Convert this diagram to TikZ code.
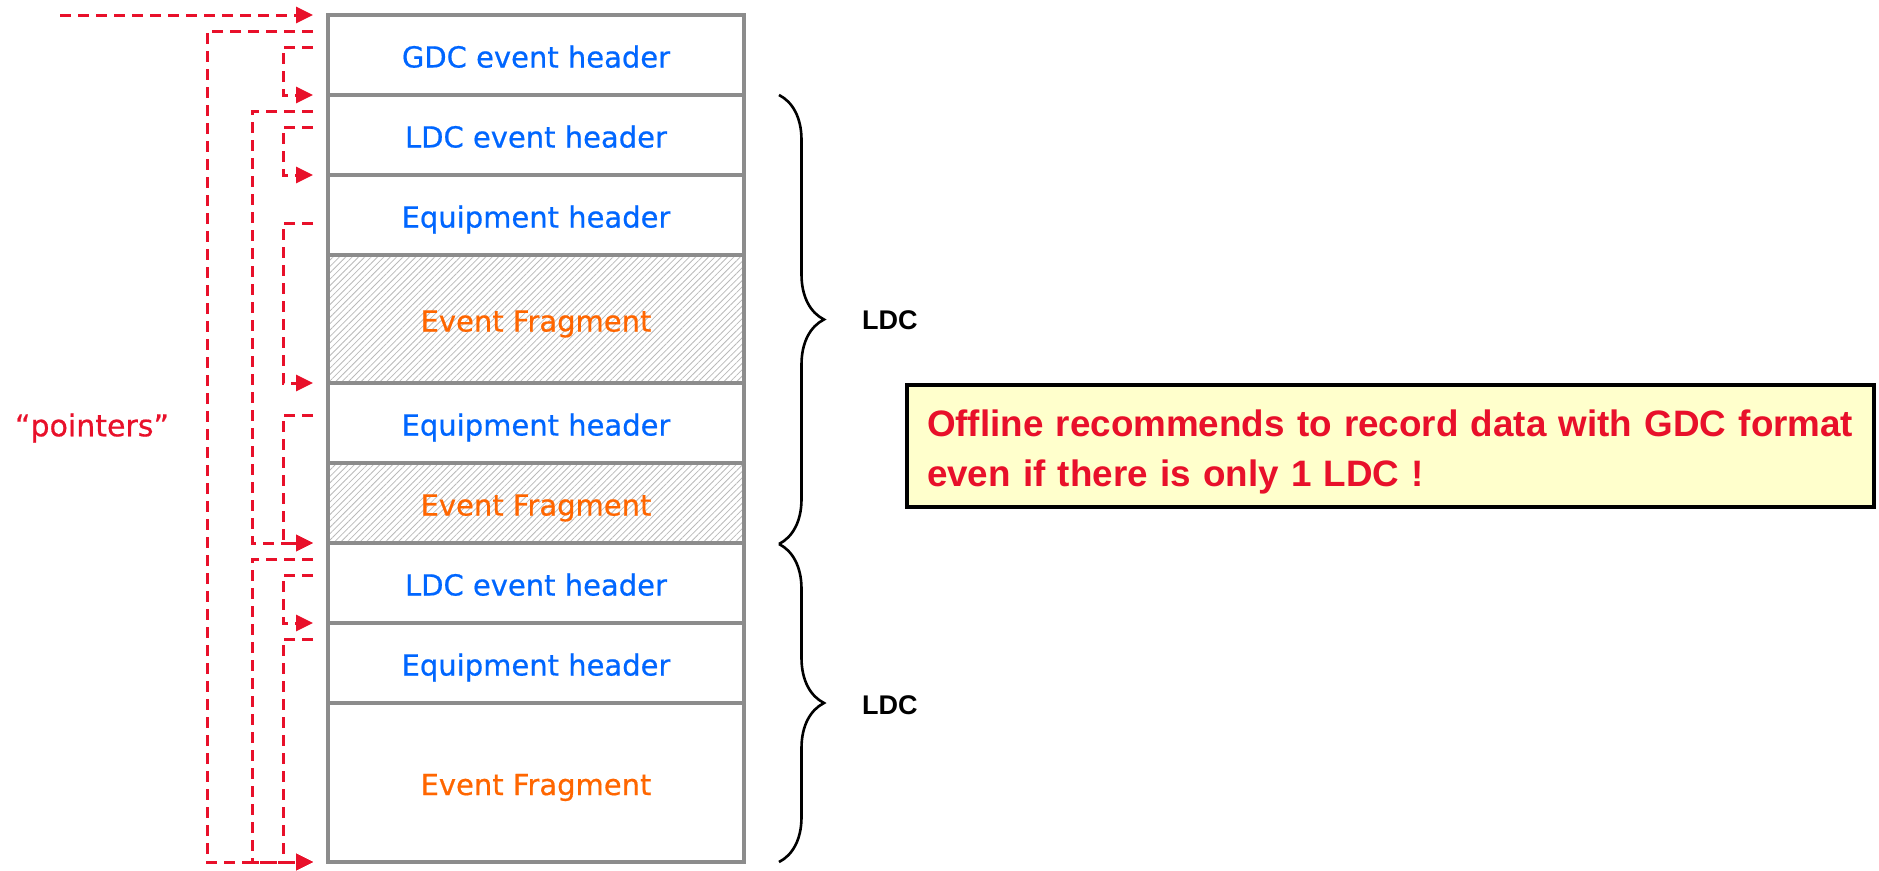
\documentclass[tikz,border=0pt]{standalone}
\usepackage{fontspec}
\setmainfont{DejaVu Sans}
\newfontfamily\stackfont{DejaVu Sans}[FakeBold=0.6]
\newfontfamily\arialfont{Liberation Sans}
\usetikzlibrary{arrows.meta,patterns.meta,decorations.pathreplacing}
\definecolor{ptrred}{HTML}{E8102A}
\definecolor{hdrblue}{HTML}{0066FF}
\definecolor{fragorange}{HTML}{FF6600}
\definecolor{notebg}{HTML}{FFFFCC}
\definecolor{boxgray}{HTML}{8C8C8C}
\begin{document}
\begin{tikzpicture}[x=1pt,y=-1pt,
  row/.style={draw=boxgray, line width=3.5pt, anchor=north west, minimum width=416pt,
    inner sep=0pt, outer sep=0pt, text height=25pt, text depth=0pt,
    font=\stackfont\fontsize{29}{34}\selectfont},
  hdr/.style={row, text=hdrblue, minimum height=80pt},
  frag/.style={row, text=fragorange},
  hatched/.style={pattern={Lines[angle=45,distance=4.5pt,line width=0.8pt]}, pattern color=gray!55},
  ptr/.style={draw=ptrred, line width=3pt, dash pattern=on 11pt off 7pt},
  ptrarrow/.style={ptr, -{Triangle[length=17pt,width=16pt]}},
  bracestyle/.style={draw=black, line width=2.6pt, decorate, decoration={brace, amplitude=45pt}},
  ldclabel/.style={anchor=west, inner sep=0pt, font=\arialfont\bfseries\fontsize{27}{30}\selectfont},
  notebox/.style={anchor=north west, draw=black, line width=4pt, fill=notebg,
    minimum width=967pt, minimum height=122pt, inner xsep=20pt, inner ysep=0pt,
    text width=927pt, align=left, text=ptrred,
    font=\arialfont\bfseries\fontsize{36.8}{50}\selectfont}
]
\useasboundingbox (0,0) rectangle (1879,870);

% stack of blocks
\node[hdr] (gdc) at (328,15) {GDC event header};
\node[hdr] (ldc1) at (gdc.south west) {LDC event header};
\node[hdr] (eq1) at (ldc1.south west) {Equipment header};
\node[frag, hatched, minimum height=128pt] (ef1) at (eq1.south west) {Event Fragment};
\node[hdr] (eq2) at (ef1.south west) {Equipment header};
\node[frag, hatched, minimum height=80pt] (ef2) at (eq2.south west) {Event Fragment};
\node[hdr] (ldc2) at (ef2.south west) {LDC event header};
\node[hdr] (eq3) at (ldc2.south west) {Equipment header};
\node[frag, minimum height=159pt] (ef3) at (eq3.south west) {Event Fragment};

% pointer columns
\coordinate (cA) at (207,0);
\coordinate (cB) at (252,0);
\coordinate (cC) at (283,0);

% pointer starts
\coordinate (t0) at (60,15);
\coordinate (s1) at (313,31);
\coordinate (s2) at (313,47);
\coordinate (s3) at (313,111);
\coordinate (s4) at (313,127);
\coordinate (s5) at (313,223);
\coordinate (s6) at (313,415);
\coordinate (s7) at (313,559);
\coordinate (s8) at (313,575);
\coordinate (s9) at (313,639);

% pointer targets
\coordinate (eTop) at ([xshift=-15pt]gdc.north west);
\coordinate (eLdc1) at ([xshift=-15pt]ldc1.north west);
\coordinate (eEq1) at ([xshift=-15pt]eq1.north west);
\coordinate (eEq2) at ([xshift=-15pt]eq2.north west);
\coordinate (eLdc2) at ([xshift=-15pt]ldc2.north west);
\coordinate (eEq3) at ([xshift=-15pt]eq3.north west);
\coordinate (eEnd) at ([xshift=-15pt]ef3.south west);

\draw[ptrarrow] (t0) -- (eTop);
\draw[ptrarrow] (s1) -- (s1 -| cA) -- (eEnd -| cA) -- (eEnd);
\draw[ptrarrow] (s2) -- (s2 -| cC) -- (eLdc1 -| cC) -- (eLdc1);
\draw[ptrarrow] (s3) -- (s3 -| cB) -- (eLdc2 -| cB) -- (eLdc2);
\draw[ptrarrow] (s4) -- (s4 -| cC) -- (eEq1 -| cC) -- (eEq1);
\draw[ptrarrow] (s5) -- (s5 -| cC) -- (eEq2 -| cC) -- (eEq2);
\draw[ptrarrow] (s6) -- (s6 -| cC) -- (eLdc2 -| cC) -- (eLdc2);
\draw[ptrarrow] (s7) -- (s7 -| cB) -- (eEnd -| cB) -- (eEnd);
\draw[ptrarrow] (s8) -- (s8 -| cC) -- (eEq3 -| cC) -- (eEq3);
\draw[ptrarrow] (s9) -- (s9 -| cC) -- (eEnd -| cC) -- (eEnd);

\node[text=ptrred, font=\stackfont\fontsize{30}{34}\selectfont] (ptrlabel) at (92,428) {“pointers”};

% braces
\coordinate (b1top) at (779,95);
\coordinate (b1bot) at (779,544);
\coordinate (b2bot) at (779,862);
\draw[bracestyle] (b1top) -- (b1bot);
\draw[bracestyle] (b1bot) -- (b2bot);
\node[ldclabel] (ldcA) at (862,320) {LDC};
\node[ldclabel] (ldcB) at (862,705) {LDC};

% note
\node[notebox] (note) at (905,383) {\rule{0pt}{38pt}Offline recommends to record data with GDC format\\even if there is only 1 LDC !};
\end{tikzpicture}
\end{document}
